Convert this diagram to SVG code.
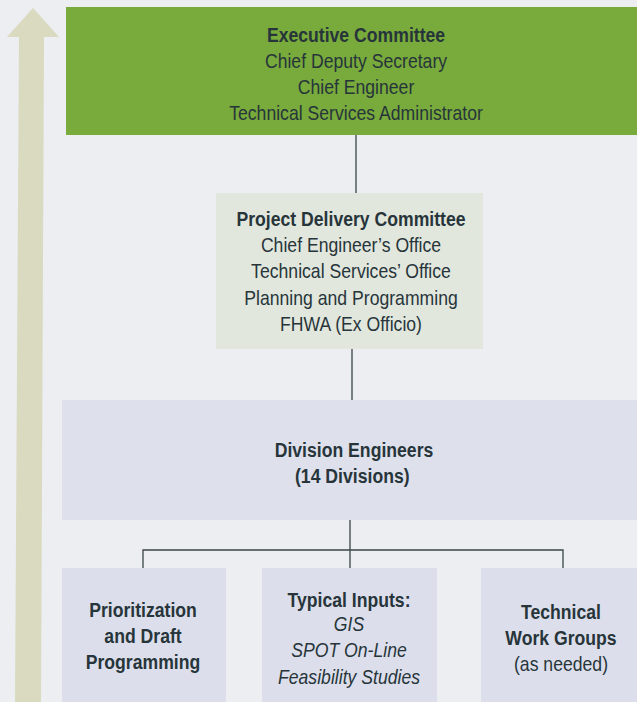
<svg xmlns="http://www.w3.org/2000/svg" width="637" height="702" viewBox="0 0 637 702">
<style>
text{font-family:"Liberation Sans",Arial,sans-serif;font-size:20.5px;fill:#27353a;text-anchor:middle}
.b{font-weight:bold}
.i{font-style:italic}
.c{stroke:#3a4548;stroke-width:1.3;fill:none}
</style>
<rect x="0" y="0" width="637" height="702" fill="#eceef2"/>
<path d="M33 8 L59 37 L44 37 L41 702 L15 702 L19 37 L7 37 Z" fill="#d9dac0"/>
<g id="connectors">
<path class="c" d="M356 135 V193"/>
<path class="c" d="M352 349 V400"/>
<path class="c" d="M350 520 V568 M143 568 V550 H563 V568"/>
</g>
<g id="exec">
<rect x="66" y="7" width="571" height="128" fill="#78aa3c"/>
<g transform="translate(356 0) scale(0.86 1)">
<text x="0" y="42" class="b">Executive Committee</text>
<text x="0" y="68">Chief Deputy Secretary</text>
<text x="0" y="94">Chief Engineer</text>
<text x="0" y="120">Technical Services Administrator</text>
</g>
</g>
<g id="pdc">
<rect x="216" y="193" width="267" height="156" fill="#e2e7de"/>
<g transform="translate(351 0) scale(0.86 1)">
<text x="0" y="226" class="b">Project Delivery Committee</text>
<text x="0" y="252">Chief Engineer’s Office</text>
<text x="0" y="278">Technical Services’ Office</text>
<text x="0" y="305">Planning and Programming</text>
<text x="0" y="331">FHWA (Ex Officio)</text>
</g>
</g>
<g id="div">
<rect x="62" y="400" width="575" height="120" fill="#dee1ec"/>
<g transform="translate(354 0) scale(0.86 1)">
<text x="0" y="457" class="b">Division Engineers</text>
<text x="-2" y="483" class="b">(14 Divisions)</text>
</g>
</g>
<g id="prior">
<rect x="62" y="568" width="164" height="134" fill="#dcdfeb"/>
<g transform="translate(143 0) scale(0.86 1)">
<text x="0" y="617" class="b">Prioritization</text>
<text x="0" y="643" class="b">and Draft</text>
<text x="0" y="669" class="b">Programming</text>
</g>
</g>
<g id="inputs">
<rect x="262" y="568" width="175" height="134" fill="#dcdfeb"/>
<g transform="translate(349 0) scale(0.86 1)">
<text x="0" y="607" class="b">Typical Inputs:</text>
<text x="0" y="631" class="i">GIS</text>
<text x="0" y="657" class="i">SPOT On-Line</text>
<text x="0" y="684" class="i">Feasibility Studies</text>
</g>
</g>
<g id="twg">
<rect x="481" y="568" width="156" height="134" fill="#dcdfeb"/>
<g transform="translate(561 0) scale(0.86 1)">
<text x="0" y="619" class="b">Technical</text>
<text x="0" y="645" class="b">Work Groups</text>
<text x="0" y="671">(as needed)</text>
</g>
</g>
</svg>
